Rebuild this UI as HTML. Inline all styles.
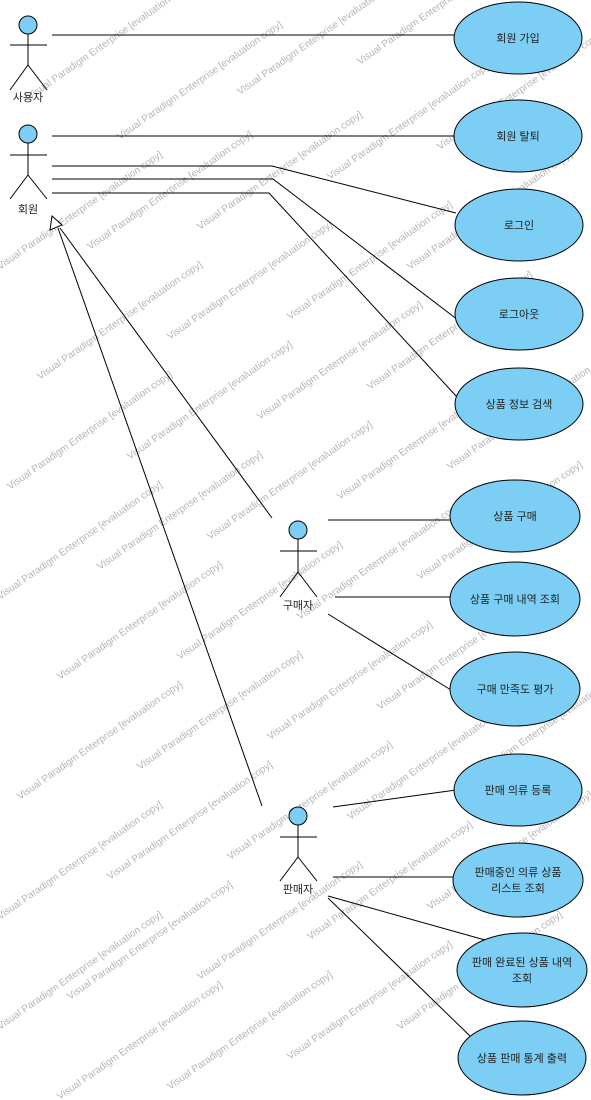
<!DOCTYPE html>
<html><head><meta charset="utf-8"><style>
html,body{margin:0;padding:0;background:#fff;}
svg{display:block;font-family:"Liberation Sans","Noto Sans CJK KR",sans-serif;}
.wm{fill:#b5b5b5;font-size:10px;}
.t{font-size:11px;fill:#222;text-anchor:middle;}
</style></head><body>
<svg width="591" height="1100" viewBox="0 0 591 1100" xmlns="http://www.w3.org/2000/svg">
<g class="wm">
<text transform="translate(30,100) rotate(-35)">Visual Paradigm Enterprise [evaluation copy]</text>
<text transform="translate(120,140) rotate(-35)">Visual Paradigm Enterprise [evaluation copy]</text>
<text transform="translate(240,95) rotate(-35)">Visual Paradigm Enterprise [evaluation copy]</text>
<text transform="translate(360,65) rotate(-35)">Visual Paradigm Enterprise [evaluation copy]</text>
<text transform="translate(0,270) rotate(-35)">Visual Paradigm Enterprise [evaluation copy]</text>
<text transform="translate(90,250) rotate(-35)">Visual Paradigm Enterprise [evaluation copy]</text>
<text transform="translate(200,230) rotate(-35)">Visual Paradigm Enterprise [evaluation copy]</text>
<text transform="translate(330,180) rotate(-35)">Visual Paradigm Enterprise [evaluation copy]</text>
<text transform="translate(440,150) rotate(-35)">Visual Paradigm Enterprise [evaluation copy]</text>
<text transform="translate(40,380) rotate(-35)">Visual Paradigm Enterprise [evaluation copy]</text>
<text transform="translate(170,340) rotate(-35)">Visual Paradigm Enterprise [evaluation copy]</text>
<text transform="translate(290,320) rotate(-35)">Visual Paradigm Enterprise [evaluation copy]</text>
<text transform="translate(410,270) rotate(-35)">Visual Paradigm Enterprise [evaluation copy]</text>
<text transform="translate(10,490) rotate(-35)">Visual Paradigm Enterprise [evaluation copy]</text>
<text transform="translate(130,460) rotate(-35)">Visual Paradigm Enterprise [evaluation copy]</text>
<text transform="translate(260,420) rotate(-35)">Visual Paradigm Enterprise [evaluation copy]</text>
<text transform="translate(370,390) rotate(-35)">Visual Paradigm Enterprise [evaluation copy]</text>
<text transform="translate(0,600) rotate(-35)">Visual Paradigm Enterprise [evaluation copy]</text>
<text transform="translate(100,570) rotate(-35)">Visual Paradigm Enterprise [evaluation copy]</text>
<text transform="translate(210,540) rotate(-35)">Visual Paradigm Enterprise [evaluation copy]</text>
<text transform="translate(340,500) rotate(-35)">Visual Paradigm Enterprise [evaluation copy]</text>
<text transform="translate(450,470) rotate(-35)">Visual Paradigm Enterprise [evaluation copy]</text>
<text transform="translate(60,680) rotate(-35)">Visual Paradigm Enterprise [evaluation copy]</text>
<text transform="translate(180,660) rotate(-35)">Visual Paradigm Enterprise [evaluation copy]</text>
<text transform="translate(300,620) rotate(-35)">Visual Paradigm Enterprise [evaluation copy]</text>
<text transform="translate(420,580) rotate(-35)">Visual Paradigm Enterprise [evaluation copy]</text>
<text transform="translate(20,800) rotate(-35)">Visual Paradigm Enterprise [evaluation copy]</text>
<text transform="translate(140,770) rotate(-35)">Visual Paradigm Enterprise [evaluation copy]</text>
<text transform="translate(270,740) rotate(-35)">Visual Paradigm Enterprise [evaluation copy]</text>
<text transform="translate(380,710) rotate(-35)">Visual Paradigm Enterprise [evaluation copy]</text>
<text transform="translate(0,920) rotate(-35)">Visual Paradigm Enterprise [evaluation copy]</text>
<text transform="translate(110,880) rotate(-35)">Visual Paradigm Enterprise [evaluation copy]</text>
<text transform="translate(230,860) rotate(-35)">Visual Paradigm Enterprise [evaluation copy]</text>
<text transform="translate(350,820) rotate(-35)">Visual Paradigm Enterprise [evaluation copy]</text>
<text transform="translate(460,790) rotate(-35)">Visual Paradigm Enterprise [evaluation copy]</text>
<text transform="translate(0,1030) rotate(-35)">Visual Paradigm Enterprise [evaluation copy]</text>
<text transform="translate(70,1000) rotate(-35)">Visual Paradigm Enterprise [evaluation copy]</text>
<text transform="translate(200,980) rotate(-35)">Visual Paradigm Enterprise [evaluation copy]</text>
<text transform="translate(310,940) rotate(-35)">Visual Paradigm Enterprise [evaluation copy]</text>
<text transform="translate(430,910) rotate(-35)">Visual Paradigm Enterprise [evaluation copy]</text>
<text transform="translate(60,1100) rotate(-35)">Visual Paradigm Enterprise [evaluation copy]</text>
<text transform="translate(170,1090) rotate(-35)">Visual Paradigm Enterprise [evaluation copy]</text>
<text transform="translate(290,1060) rotate(-35)">Visual Paradigm Enterprise [evaluation copy]</text>
<text transform="translate(400,1030) rotate(-35)">Visual Paradigm Enterprise [evaluation copy]</text>
</g>
<g stroke="#000" stroke-width="1" fill="none">
<line x1="52" y1="35" x2="455" y2="35"/>
<line x1="52" y1="136" x2="455" y2="136"/>
<polyline points="52,166 272,166 456,213"/>
<polyline points="52,179 273,179 458,320"/>
<polyline points="52,193 269,193 457,397"/>
<line x1="328" y1="520" x2="450" y2="520"/>
<line x1="335" y1="597" x2="450" y2="597"/>
<line x1="328" y1="614" x2="451" y2="690"/>
<line x1="333" y1="807" x2="456" y2="790"/>
<line x1="333" y1="877" x2="456" y2="877"/>
<line x1="328" y1="896" x2="485" y2="940"/>
<line x1="328" y1="898" x2="470" y2="1036"/>
<line x1="272" y1="518" x2="60" y2="228"/>
<line x1="262" y1="806" x2="58" y2="228"/>
<polygon points="52,216 50,230 62,225" fill="#fff"/>
</g>
<g fill="#7dcef4" stroke="#000" stroke-width="1">
<ellipse cx="518" cy="38" rx="64" ry="36"/>
<ellipse cx="518" cy="136" rx="64" ry="36"/>
<ellipse cx="519" cy="225" rx="64" ry="36"/>
<ellipse cx="519" cy="314" rx="64" ry="36"/>
<ellipse cx="519" cy="404" rx="64" ry="36"/>
<ellipse cx="515" cy="516" rx="65" ry="36"/>
<ellipse cx="515" cy="599" rx="65" ry="37"/>
<ellipse cx="515" cy="689" rx="65" ry="37"/>
<ellipse cx="518" cy="790" rx="64" ry="36"/>
<ellipse cx="518" cy="880" rx="65" ry="37"/>
<ellipse cx="522" cy="970" rx="65" ry="37"/>
<ellipse cx="522" cy="1058" rx="64" ry="37"/>
</g>
<g class="t">
<text x="518" y="42">회원 가입</text>
<text x="518" y="140">회원 탈퇴</text>
<text x="519" y="229">로그인</text>
<text x="519" y="318">로그아웃</text>
<text x="519" y="408">상품 정보 검색</text>
<text x="515" y="520">상품 구매</text>
<text x="515" y="603">상품 구매 내역 조회</text>
<text x="515" y="693">구매 만족도 평가</text>
<text x="518" y="794">판매 의류 등록</text>
<text x="518" y="876">판매중인 의류 상품</text>
<text x="518" y="892">리스트 조회</text>
<text x="522" y="966">판매 완료된 상품 내역</text>
<text x="522" y="982">조회</text>
<text x="522" y="1062">상품 판매 통계  출력</text>
</g>
<g stroke="#000" stroke-width="1" fill="none">
<g transform="translate(28,25)">
<circle cx="0" cy="0" r="9" fill="#7dcef4"/>
<line x1="0" y1="9" x2="0" y2="40"/><line x1="-18" y1="20" x2="19" y2="20"/>
<line x1="0" y1="40" x2="-18" y2="65"/><line x1="0" y1="40" x2="19" y2="65"/>
</g>
<g transform="translate(28,134)">
<circle cx="0" cy="0" r="9" fill="#7dcef4"/>
<line x1="0" y1="9" x2="0" y2="41"/><line x1="-18" y1="21" x2="19" y2="21"/>
<line x1="0" y1="41" x2="-18" y2="65"/><line x1="0" y1="41" x2="19" y2="65"/>
</g>
<g transform="translate(298,530)">
<circle cx="0" cy="0" r="9" fill="#7dcef4"/>
<line x1="0" y1="9" x2="0" y2="42"/><line x1="-18" y1="21" x2="19" y2="21"/>
<line x1="0" y1="42" x2="-18" y2="67"/><line x1="0" y1="42" x2="19" y2="67"/>
</g>
<g transform="translate(298,816)">
<circle cx="0" cy="0" r="9" fill="#7dcef4"/>
<line x1="0" y1="9" x2="0" y2="41"/><line x1="-18" y1="21" x2="19" y2="21"/>
<line x1="0" y1="41" x2="-18" y2="65"/><line x1="0" y1="41" x2="19" y2="65"/>
</g>
</g>
<g class="t">
<text x="28" y="101">사용자</text>
<text x="28" y="213">회원</text>
<text x="298" y="609">구매자</text>
<text x="298" y="893">판매자</text>
</g>
</svg>
</body></html>
